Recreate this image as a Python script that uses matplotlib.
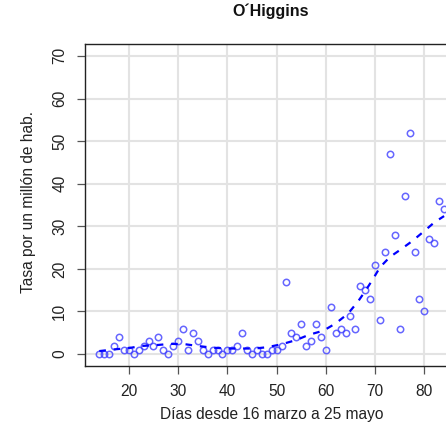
import matplotlib
matplotlib.use("Agg")
import matplotlib.pyplot as plt

# observed daily rates
dias = list(range(14, 85))
tasa = [0, 0, 0, 2, 4, 1, 1, 0, 1, 2, 3, 2, 4, 1, 0, 2, 3, 6, 1, 5, 3, 1, 0, 1, 1, 0, 1, 1, 2, 5,
        1, 0, 1, 0, 0, 1, 1, 2, 17, 5, 4, 7, 2, 3, 7, 4, 1, 11, 5, 6, 5, 9, 6, 16, 15, 13,
        21, 8, 24, 47, 28, 6, 37, 52, 24, 13, 10, 27, 26, 36, 34]

# smoothed trend
suav_x = [14, 17, 20, 22.5, 25.5, 28.5, 31.5, 34, 37, 40, 43, 45.5, 48, 51, 54, 56.5, 59.5,
          62, 64.5, 66.5, 68, 69.5, 71, 73, 75, 77.5, 80, 82, 84]
suav_y = [0.7, 1.1, 1.4, 1.9, 2.1, 2.4, 2.3, 1.9, 1.5, 1.3, 1.3, 1.3, 1.6, 2.3, 3.3, 4.5, 5.5,
          7.2, 9.5, 12.3, 14.8, 17.5, 20.4, 22.8, 24.4, 26.5, 28.9, 30.9, 32.4]

xticks = [20, 30, 40, 50, 60, 70, 80]
yticks = [0, 10, 20, 30, 40, 50, 60, 70]

plt.rcParams['font.family'] = ['Liberation Sans', 'DejaVu Sans']

W, H = 446, 432
fig = plt.figure(figsize=(W / 100, H / 100), dpi=100)
left, right, bottom, top = 85.3, 463, 366, 44
ax = fig.add_axes([left / W, (H - bottom) / H, (right - left) / W, (bottom - top) / H])

ax.set_xlim(11.16, 87.84)
ax.set_ylim(-2.8, 72.8)

for t in xticks:
    ax.axvline(t, color='#e3e3e3', lw=1.5, zorder=0)
for t in yticks:
    ax.axhline(t, color='#e3e3e3', lw=1.5, zorder=0)

ax.plot(dias, tasa, linestyle='none', marker='o', markersize=4.6, markerfacecolor='none',
        markeredgecolor=(0.25, 0.25, 1.0, 0.8), markeredgewidth=1.1, zorder=3)
ax.plot(suav_x, suav_y, color='blue', lw=1.6, linestyle=(0, (3, 3.5)), zorder=4)

FS = 11.2
ax.set_xticks(xticks)
ax.set_yticks(yticks)
ax.tick_params(axis='both', direction='out', length=5.5, width=0.9, colors='#555555',
               labelcolor='#222222', labelsize=FS)
ax.tick_params(axis='x', pad=7.5)
ax.tick_params(axis='y', pad=7.5)
for lab in ax.get_yticklabels():
    lab.set_rotation(90)
    lab.set_va('center')
for sp in ax.spines.values():
    sp.set_color('#222222')
    sp.set_linewidth(1.0)

fig.text(272 / W, 1 - 415 / H, 'Días desde 16 marzo a 25 mayo', ha='center', va='center',
         fontsize=FS, color='#222222')
fig.text(28.5 / W, 1 - 202 / H, 'Tasa por un millón de hab.', ha='center', va='center',
         rotation=90, fontsize=FS, color='#222222')
fig.text(270.5 / W, 1 - 11.5 / H, 'O´Higgins', ha='center', va='center',
         fontsize=11.5, fontweight='bold', color='#111111')

fig.savefig('out.png', dpi=100)
